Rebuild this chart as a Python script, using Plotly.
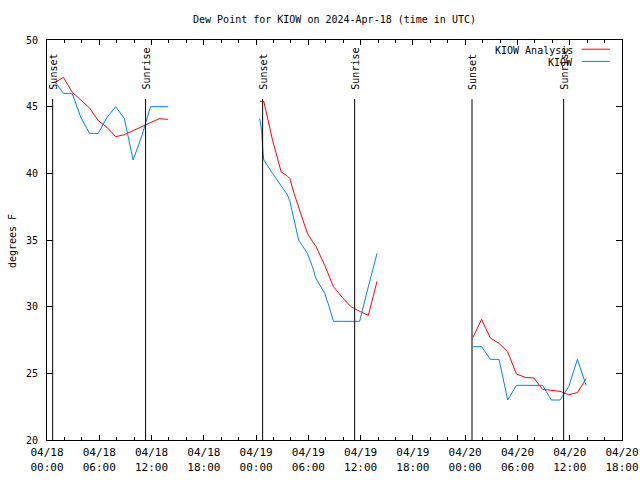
import plotly.graph_objects as go

# ---------------- data ----------------
seg1_times = ["2024-04-18 %02d:53" % h for h in range(0, 14)]
seg1_analysis = [46.8, 47.2, 46.1, 45.5, 44.9, 43.95, 43.45, 42.75, 42.9, 43.2, 43.5, 43.85, 44.1, 44.05]
seg1_obs = [46.9, 46.0, 46.0, 44.2, 43.0, 43.0, 44.2, 45.0, 44.1, 41.0, 42.8, 45.0, 45.0, 45.0]

seg2_times = ["2024-04-19 00:25", "2024-04-19 00:38", "2024-04-19 00:47", "2024-04-19 00:53",
              "2024-04-19 01:53", "2024-04-19 02:53", "2024-04-19 03:35", "2024-04-19 03:53",
              "2024-04-19 04:21", "2024-04-19 04:53", "2024-04-19 05:53", "2024-04-19 06:28",
              "2024-04-19 06:53", "2024-04-19 07:53", "2024-04-19 08:23", "2024-04-19 08:53",
              "2024-04-19 09:53", "2024-04-19 10:53", "2024-04-19 11:53", "2024-04-19 12:53",
              "2024-04-19 13:53"]
seg2_analysis = [45.4, 45.4, 45.4, 45.4, 42.5, 40.1, 39.8, 39.6, 38.5, 37.5, 35.5, 34.9,
                 34.5, 33.1, 32.25, 31.5, 30.7, 30.0, 29.65, 29.35, 31.9]
seg2_obs = [44.1, 43.2, 41.6, 41.0, 40.0, 39.0, 38.4, 37.9, 36.5, 35.0, 34.0, 33.0,
            32.1, 31.0, 30.0, 28.9, 28.9, 28.9, 28.9, 31.5, 34.0]

seg3_times = ["2024-04-20 %02d:53" % h for h in range(0, 14)]
seg3_analysis = [27.7, 29.05, 27.65, 27.25, 26.6, 24.95, 24.7, 24.65, 23.8, 23.75, 23.65, 23.4, 23.55, 24.6]
seg3_obs = [27.0, 27.0, 26.05, 26.05, 23.0, 24.1, 24.1, 24.1, 24.1, 23.0, 23.0, 24.0, 26.05, 24.1]

event_times = ["2024-04-18 00:39", "2024-04-18 11:19", "2024-04-19 00:45",
               "2024-04-19 11:19", "2024-04-20 00:47", "2024-04-20 11:18"]
event_labels = ["Sunset", "Sunrise", "Sunset", "Sunrise", "Sunset", "Sunrise"]

tick_times = ["2024-04-18 00:00", "2024-04-18 06:00", "2024-04-18 12:00", "2024-04-18 18:00",
              "2024-04-19 00:00", "2024-04-19 06:00", "2024-04-19 12:00", "2024-04-19 18:00",
              "2024-04-20 00:00", "2024-04-20 06:00", "2024-04-20 12:00", "2024-04-20 18:00"]
tick_labels = ["04/18<br>00:00", "04/18<br>06:00", "04/18<br>12:00", "04/18<br>18:00",
               "04/19<br>00:00", "04/19<br>06:00", "04/19<br>12:00", "04/19<br>18:00",
               "04/20<br>00:00", "04/20<br>06:00", "04/20<br>12:00", "04/20<br>18:00"]

series_names = ["KIOW Analysis", "KIOW"]
series_colors = ["#ff0000", "#0080ff"]

FONT = "DejaVu Sans Mono"

# --------------- build ----------------
x_all = seg1_times + ["2024-04-18 18:00"] + seg2_times + ["2024-04-19 18:00"] + seg3_times
y_analysis = seg1_analysis + [None] + seg2_analysis + [None] + seg3_analysis
y_obs = seg1_obs + [None] + seg2_obs + [None] + seg3_obs

fig = go.Figure()
fig.add_trace(go.Scatter(x=x_all, y=y_analysis, mode="lines", name=series_names[0],
                         line=dict(color=series_colors[0], width=1), connectgaps=False,
                         showlegend=False))
fig.add_trace(go.Scatter(x=x_all, y=y_obs, mode="lines", name=series_names[1],
                         line=dict(color=series_colors[1], width=1), connectgaps=False,
                         showlegend=False))

shapes = []
annotations = []
for t, lab in zip(event_times, event_labels):
    shapes.append(dict(type="line", xref="x", yref="paper", x0=t, x1=t, y0=0, y1=0.8525,
                       line=dict(color="black", width=1)))
    annotations.append(dict(x=t, y=0.87, xref="x", yref="paper", text=lab, textangle=-90,
                            showarrow=False, xanchor="center", yanchor="bottom",
                            font=dict(family=FONT, size=10, color="black")))

# manual gnuplot-style legend (text right, sample line to its right)
leg_y = [0.975, 0.9445]
for i, (nm, col) in enumerate(zip(series_names, series_colors)):
    annotations.append(dict(x=0.918, y=leg_y[i], xref="paper", yref="paper", text=nm,
                            showarrow=False, xanchor="right", yanchor="middle",
                            font=dict(family=FONT, size=10, color="black")))
    shapes.append(dict(type="line", xref="paper", yref="paper", x0=0.930, x1=0.979,
                       y0=leg_y[i] + 0.002, y1=leg_y[i] + 0.002, line=dict(color=col, width=1)))

annotations.append(dict(x=-0.059, y=0.4975, xref="paper", yref="paper", text="degrees F",
                        textangle=-90, showarrow=False, xanchor="center", yanchor="middle",
                        font=dict(family=FONT, size=10, color="black")))

fig.update_layout(
    width=640, height=480,
    margin=dict(l=47, r=18, t=40, b=40, pad=0, autoexpand=False),
    paper_bgcolor="white", plot_bgcolor="white",
    font=dict(family=FONT, size=10, color="black"),
    title=dict(text="Dew Point for KIOW on 2024-Apr-18 (time in UTC)", x=0.5, xref="paper",
               y=1 - 19 / 480, yref="container", xanchor="center", yanchor="middle",
               font=dict(family=FONT, size=10, color="black")),
    shapes=shapes, annotations=annotations, showlegend=False,
)
fig.update_xaxes(type="date", range=["2024-04-18 00:00", "2024-04-20 18:00"],
                 tickmode="array", tickvals=tick_times, ticktext=tick_labels,
                 ticks="inside", ticklen=5, tickcolor="black", tickwidth=1,
                 showline=True, linecolor="black", linewidth=1, mirror="allticks",
                 showgrid=False, zeroline=False, ticklabelstandoff=2, automargin=False,
                 minor=dict(ticks="inside", ticklen=3, tickcolor="black", tickwidth=1,
                            tickmode="linear", tick0="2024-04-18 00:00", dtick=2 * 3600 * 1000,
                            showgrid=False),
                 tickfont=dict(family=FONT, size=11, color="black"))
fig.update_yaxes(range=[20, 50], tickmode="linear", tick0=20, dtick=5,
                 ticks="inside", ticklen=6, tickcolor="black", tickwidth=1,
                 showline=True, linecolor="black", linewidth=1, mirror="allticks",
                 showgrid=False, zeroline=False, ticklabelstandoff=6, automargin=False,
                 tickfont=dict(family=FONT, size=10, color="black"))

fig.write_html(
    "out.html",
    config={"displayModeBar": False, "staticPlot": True},
    post_script="document.body.style.margin='0';document.body.style.overflow='hidden';",
)
